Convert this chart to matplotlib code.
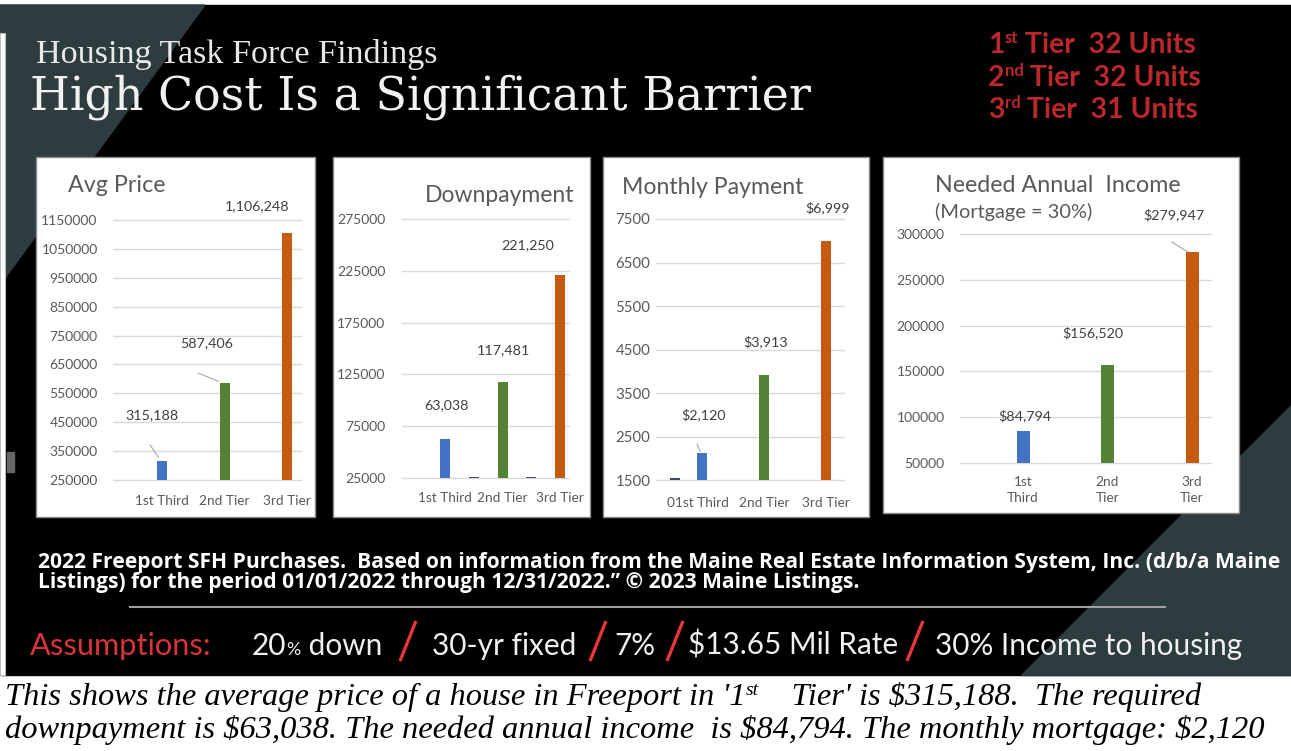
import matplotlib
matplotlib.use("Agg")
import matplotlib.pyplot as plt
from matplotlib.patches import Rectangle, Polygon

W, H = 1291, 751

# ---- data
tiers = ["1st Third", "2nd Tier", "3rd Tier"]
tiers_income = ["1st\nThird", "2nd\nTier", "3rd\nTier"]
avg_price = [315188, 587406, 1106248]
avg_price_text = ["315,188", "587,406", "1,106,248"]
downpayment = [63038, 117481, 221250]
downpayment_text = ["63,038", "117,481", "221,250"]
monthly = [2120, 3913, 6999]
monthly_text = ["$2,120", "$3,913", "$6,999"]
income = [84794, 156520, 279947]
income_text = ["$84,794", "$156,520", "$279,947"]
tier_units = [32, 32, 31]
ordinals = ["st", "nd", "rd"]

bar_colors = ["#4472c4", "#548235", "#c55a11"]
TEAL = "#2d3c3e"
RED = "#bb272b"
GREY = "#595959"
WHITE = "#f0f0f0"

fig = plt.figure(figsize=(W / 100, H / 100), dpi=100, facecolor="white")
bg = fig.add_axes([0, 0, 1, 1])
bg.set_xlim(0, W)
bg.set_ylim(H, 0)
bg.axis("off")
R = fig.canvas.get_renderer()

# slide background
bg.add_patch(Rectangle((0, 5), W, 670, color="black"))
bg.add_patch(Polygon([(0, 5), (205, 5), (0, 285)], color=TEAL))
bg.add_patch(Polygon([(W, 405), (W, 675), (1021, 675)], color=TEAL))
bg.add_patch(Rectangle((0, 33), 5, 642, facecolor="white", edgecolor="#bbbbbb", lw=0.8))
bg.add_patch(Rectangle((7, 452), 7, 20, color="#666666"))


def tw(t):
    return t.get_window_extent(R).width


def runs(x, y, parts, width=None, **kw):
    # parts: (text, size, rise_px, color)
    def draw(scale):
        out, cx = [], x
        for s, size, rise, color in parts:
            t = bg.text(cx, y - rise * scale, s, fontsize=size * scale, color=color,
                        va="baseline", ha="left", **kw)
            cx += tw(t)
            out.append(t)
        return out
    out = draw(1.0)
    if width:
        total = sum(tw(t) for t in out)
        for t in out:
            t.remove()
        out = draw(width / total)
    return out


def fit(x, y, s, width, size=12, **kw):
    t = bg.text(x, y, s, fontsize=size, **kw)
    t.set_fontsize(size * width / tw(t))
    return t


# ---- headline
fit(36, 63, "Housing Task Force Findings", 402, family="Liberation Serif",
    color="#e8e8e8", va="baseline")
fit(30, 110, "High Cost Is a Significant Barrier", 778, family="DejaVu Serif",
    color="#f2f2f2", va="baseline")

first = runs(988, 53, [("1", 17, 0, RED), ("st", 10, 8, RED),
                       (" Tier  %d Units" % tier_units[0], 17, 0, RED)],
             width=208, family="Lato", weight="bold")
k = first[0].get_fontsize() / 17
for i in (1, 2):
    runs(988, 53 + 32.5 * i, [(str(i + 1), 17 * k, 0, RED), (ordinals[i], 10 * k, 8 * k, RED),
                             (" Tier  %d Units" % tier_units[i], 17 * k, 0, RED)],
         family="Lato", weight="bold")


# ---- the four chart panels
def panel(box, area, x0, step, bw, ticks, vals, texts, xlabels, lab_pos, leaders,
          ypad, xpad, ysize=10, stubs=()):
    bx0, by0, bx1, by1 = box
    bg.add_patch(Rectangle((bx0, by0), bx1 - bx0, by1 - by0, facecolor="white",
                           edgecolor="#8a8a8a", lw=1, zorder=1))
    gl, gr, yt, yb = area
    ax = fig.add_axes([gl / W, 1 - (yb + 2) / H, (gr - gl) / W, (yb - yt + 4) / H])
    ax.patch.set_alpha(0)
    lo, hi = ticks[0], ticks[-1]
    pad = 2 * (hi - lo) / (yb - yt)
    ax.set_xlim((gl - x0) / step, (gr - x0) / step)
    ax.set_ylim(lo - pad, hi + pad)
    ax.bar(range(3), [v - lo for v in vals], bottom=lo, width=bw / step,
           color=bar_colors, zorder=3)
    for sx, sv in stubs:
        ax.bar(sx, sv - lo, bottom=lo, width=10 / step, color="#3b4a66", zorder=3)
    ax.set_yticks(ticks)
    ax.set_yticklabels([str(v) for v in ticks], family="Lato", color=GREY)
    ax.set_xticks([p for p, _ in xlabels])
    ax.set_xticklabels([s for _, s in xlabels], family="Lato", color=GREY,
                       linespacing=1.35)
    ax.tick_params(axis="y", length=0, labelsize=ysize, pad=ypad)
    ax.tick_params(axis="x", length=0, labelsize=9.8, pad=xpad)
    ax.yaxis.grid(True, color="#d9d9d9", lw=1)
    ax.set_axisbelow(True)
    for s in ax.spines.values():
        s.set_visible(False)
    for (lx, ly), s in zip(lab_pos, texts):
        ax.text(lx, ly, s, ha="center", va="center", fontsize=10.3, family="Lato",
                color="#404040", clip_on=False)
    for ld in leaders:
        if ld:
            (ax1, ay1), (ax2, ay2) = ld
            ax.plot([ax1, ax2], [ay1, ay2], color="#a6a6a6", lw=0.8, clip_on=False)
    return ax


panel((36, 157, 315, 517), (113, 302, 220, 480), 162, 62.5, 10,
      list(range(250000, 1150001, 100000)), avg_price, avg_price_text,
      list(enumerate(tiers)),
      [(-0.16, 475000), (0.72, 724000), (1.52, 1198000)],
      [((-0.19, 371000), (-0.06, 329600)), ((0.58, 620000), (0.9, 592000)), None],
      ypad=11, xpad=9)
fit(68, 186, "Avg Price", 97, family="Lato", color=GREY, va="center")

panel((333, 157, 590, 517), (402, 570, 219, 478), 445, 57.5, 10,
      list(range(25000, 275001, 50000)), downpayment, downpayment_text,
      list(enumerate(tiers)),
      [(0.03, 95500), (1.01, 148500), (1.44, 250000)],
      [None, None, None], ypad=12, xpad=9,
      stubs=[(0.5, 26000), (1.5, 26000)])
fit(425, 195, "Downpayment", 148, family="Lato", color=GREY, va="center")

panel((603, 157, 869, 517), (656, 845, 219, 480), 702, 62, 10,
      list(range(1500, 7501, 1000)), monthly, monthly_text,
      [(-0.5, "0")] + list(enumerate(tiers)),
      [(0.02, 2994), (1.02, 4672), (2.02, 7753)],
      [((-0.08, 2328), (-0.03, 2160)), None, None], ypad=4, xpad=10.5,
      ysize=10.8, stubs=[(-0.43, 1540)])
fit(622, 187, "Monthly Payment", 180, family="Lato", color=GREY, va="center")

panel((883, 157, 1239, 513), (960, 1212, 234, 463), 1023, 84.5, 13,
      list(range(50000, 300001, 50000)), income, income_text,
      list(enumerate(tiers_income)),
      [(0.02, 101300), (0.83, 191900), (1.78, 320700)],
      [None, None, ((1.76, 291300), (1.95, 280300))], ypad=11, xpad=8)
fit(935, 185, "Needed Annual  Income", 245, family="Lato", color=GREY, va="center")
fit(935, 212, "(Mortgage = 30%)", 157, family="Lato", color=GREY, va="center")

# ---- footer
f1 = fit(38, 568, "2022 Freeport SFH Purchases.  Based on information from the Maine Real "
         "Estate Information System, Inc. (d/b/a Maine", 1232,
         family="Open Sans", weight="bold", color="white", va="baseline")
bg.text(38, 588, "Listings) for the period 01/01/2022 through 12/31/2022.\u201d \u00a9 2023 Maine Listings.",
        fontsize=f1.get_fontsize(), family="Open Sans", weight="bold", color="white",
        va="baseline")
bg.plot([130, 1165], [607, 607], color="#a0a0a0", lw=1.5)

# assumptions line
ref = fit(432, 655, "30-yr fixed", 144, family="Lato", color=WHITE, va="baseline")
fs = ref.get_fontsize()
fit(30, 655, "Assumptions:", 180, family="Lato", color="#d8343b", va="baseline")
runs(252, 655, [("20", fs, 0, WHITE), ("%", fs * 0.6, 0, WHITE),
                (" down", fs, 0, WHITE)], family="Lato")
bg.text(614, 655, "7%", fontsize=fs, family="Lato", color=WHITE, va="baseline")
bg.text(688, 655, "$13.65 Mil Rate", fontsize=fs, family="Lato", color=WHITE,
        va="baseline")
bg.text(935, 655, "30% Income to housing", fontsize=fs, family="Lato", color=WHITE,
        va="baseline")
for sx in [400, 590, 667, 907]:
    bg.plot([sx, sx + 16], [661, 621], color="#e8373a", lw=2.4, solid_capstyle="butt")

# ---- caption under the slide
cap2 = fit(5, 738, "downpayment is $63,038. The needed annual income  is $84,794. "
           "The monthly mortgage: $2,120", 1260, family="Liberation Serif",
           style="italic", color="black", va="baseline")
cs = cap2.get_fontsize()
runs(5, 705, [("This shows the average price of a house in Freeport in '1", cs, 0, "black"),
              ("st", cs * 0.6, 10, "black"),
              ("    Tier' is $315,188.  The required", cs, 0, "black")],
     family="Liberation Serif", style="italic")

fig.savefig("out.png", dpi=100, facecolor="white")
